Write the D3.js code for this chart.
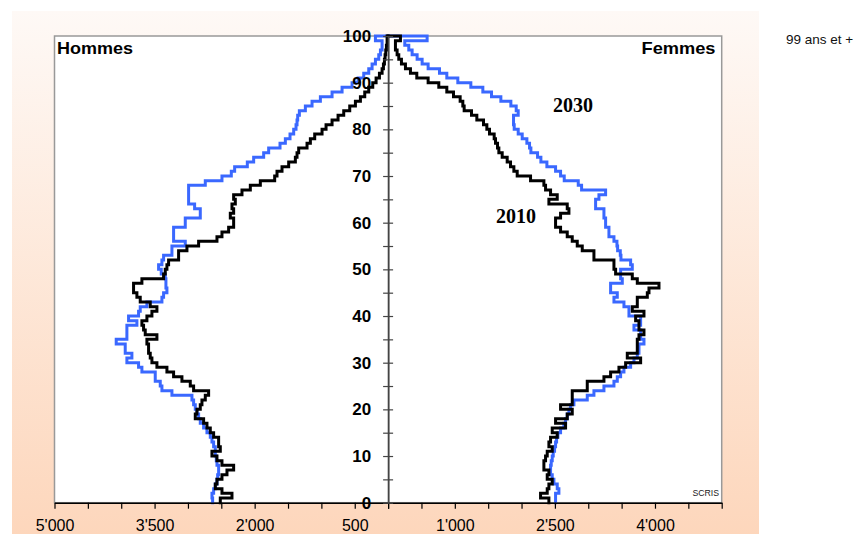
<!DOCTYPE html>
<html><head><meta charset="utf-8">
<script src="https://cdn.jsdelivr.net/npm/d3@7"></script>
<style>body{margin:0;background:#fff}svg{display:block}</style>
</head><body>
<svg id="chart" width="862" height="534"></svg>
<script>
// ---- data (population by single year of age, 0 .. 99+) ----
const men2010 = [2515,2340,2490,2590,2565,2490,2415,2315,2490,2565,
  2640,2515,2540,2540,2615,2665,2715,2765,2890,2865,
  2815,2790,2740,2690,2915,2965,3090,3215,3315,3465,
  3540,3565,3590,3590,3615,3465,3640,3665,3690,3615,
  3540,3465,3565,3715,3765,3815,3815,3690,3365,3340,
  3315,3290,3140,3140,3015,2840,2565,2490,2390,2315,
  2315,2365,2315,2340,2290,2315,2190,2065,1915,1700,
  1665,1590,1490,1390,1365,1340,1215,1165,1100,990,
  930,840,750,665,575,490,415,350,290,230,
  180,130,90,70,55,45,35,25,15,15];
const men2030 = [2630,2640,2615,2590,2565,2555,2540,2540,2565,2575,
  2590,2590,2615,2640,2665,2715,2765,2815,2840,2865,
  2890,2915,2940,3240,3390,3415,3490,3490,3690,3740,
  3915,3840,3940,3940,4075,3915,3915,3915,3765,3890,
  3740,3715,3615,3390,3365,3315,3330,3330,3340,3400,
  3440,3390,3365,3240,3240,3040,3215,3215,3215,3040,
  3040,2815,2815,2900,2990,2990,2990,2990,2740,2490,
  2350,2300,2110,2015,1865,1790,1620,1540,1470,1415,
  1380,1365,1355,1330,1240,1140,1015,840,690,540,
  450,365,290,240,190,140,115,90,90,190];
const women2010 = [2410,2285,2385,2410,2460,2385,2410,2335,2335,2360,
  2385,2460,2410,2435,2535,2460,2660,2510,2685,2760,
  2585,2760,2760,2760,2985,2985,3235,3335,3460,3560,
  3785,3585,3735,3735,3735,3760,3835,3760,3760,3710,
  3835,3660,3735,3735,3885,3910,4060,3735,3660,3410,
  3385,3385,3085,3085,2910,2835,2760,2685,2585,2510,
  2510,2585,2710,2685,2410,2535,2435,2360,2335,2135,
  1935,1885,1835,1785,1710,1660,1640,1610,1590,1520,
  1480,1430,1330,1250,1140,1120,1080,980,880,760,
  600,430,335,260,200,160,135,110,110,185];
const women2030 = [2510,2510,2560,2535,2485,2460,2435,2435,2445,2460,
  2475,2495,2510,2525,2545,2585,2635,2660,2685,2710,
  2735,2785,2985,3085,3235,3385,3435,3485,3535,3635,
  3685,3735,3760,3760,3835,3785,3785,3685,3785,3785,
  3610,3610,3535,3385,3435,3335,3335,3510,3485,3485,
  3660,3635,3490,3480,3440,3430,3385,3310,3310,3260,
  3260,3235,3235,3110,3110,3160,3260,2900,2850,2640,
  2585,2510,2380,2290,2240,2140,2120,2080,2010,1950,
  1890,1880,1880,1950,1920,1840,1690,1550,1420,1240,
  1045,880,770,600,510,435,360,310,250,585];

const xTickValues = d3.range(0, 5001, 500);
const leftTickLabels = [500, 2000, 3500, 5000];
const rightTickLabels = [1000, 2500, 4000];
const yTickValues = d3.range(0, 101, 5);
const yTickLabels = d3.range(0, 101, 10);
const sideLabels = ["Hommes", "Femmes"];
const yearLabels = ["2030", "2010"];
const topNote = "99 ans et +";
const sourceNote = "SCRIS";

// ---- layout ----
const svg = d3.select("#chart");
const L = 54.5, R = 721.7, T = 36, B = 502.7;
const cx = (L + R) / 2;
const xLeft = d3.scaleLinear().domain([0, 5000]).range([cx, L]);
const xRight = d3.scaleLinear().domain([0, 5000]).range([cx, R]);
const y = d3.scaleLinear().domain([0, 100]).range([B, T]);

const defs = svg.append("defs");
const g = defs.append("linearGradient").attr("id", "bg").attr("x1", 0).attr("y1", 0).attr("x2", 0).attr("y2", 1);
g.append("stop").attr("offset", "0%").attr("stop-color", "#fef9f6");
g.append("stop").attr("offset", "100%").attr("stop-color", "#fdd6bb");

svg.append("rect").attr("x", 12).attr("y", 11).attr("width", 747).attr("height", 530).attr("fill", "url(#bg)");
svg.append("rect").attr("x", L).attr("y", T).attr("width", R - L).attr("height", B - T)
  .attr("fill", "#fff").attr("stroke", "#999").attr("stroke-width", 1.5);

const fmt = d3.formatLocale({decimal: ".", thousands: "'", grouping: [3], currency: ["", ""]}).format(",");

// series
function stepPts(vals) { const p = vals.map((v, i) => [v, i]); p.push([0, 100]); return p; }
function mkLine(xs) { return d3.line().x(d => xs(d[0])).y(d => y(d[1])).curve(d3.curveStepBefore); }

const series = [
  {vals: men2030, xs: xLeft, color: "#3a68ff"},
  {vals: women2030, xs: xRight, color: "#3a68ff"},
  {vals: men2010, xs: xLeft, color: "#000"},
  {vals: women2010, xs: xRight, color: "#000"}
];
series.forEach(s => {
  svg.append("path").attr("d", mkLine(s.xs)(stepPts(s.vals)))
    .attr("fill", "none").attr("stroke", s.color).attr("stroke-width", 3)
    .attr("stroke-linejoin", "miter").attr("stroke-linecap", "square");
});

// x axes
function styleX(sel) {
  sel.select(".domain").attr("stroke", "#000").attr("stroke-width", 1.5);
  sel.selectAll(".tick line").attr("stroke", "#000").attr("stroke-width", 1.2);
  sel.selectAll(".tick text").attr("y", 28.5).attr("dy", 0)
    .style("font-family", "Arial, 'Liberation Sans', sans-serif").style("font-size", "16px").attr("fill", "#000");
}
const axL = svg.append("g").attr("transform", `translate(0,${B})`)
  .call(d3.axisBottom(xLeft).tickValues(xTickValues).tickSize(6).tickSizeOuter(0)
    .tickFormat(d => leftTickLabels.includes(d) ? fmt(d) : ""));
styleX(axL);
const axR = svg.append("g").attr("transform", `translate(0,${B})`)
  .call(d3.axisBottom(xRight).tickValues(xTickValues).tickSize(6).tickSizeOuter(0)
    .tickFormat(d => rightTickLabels.includes(d) ? fmt(d) : ""));
styleX(axR);

// y axis (center)
const ayR = svg.append("g").attr("transform", `translate(${cx},0)`)
  .call(d3.axisRight(y).tickValues(yTickValues).tickSize(5).tickSizeOuter(0).tickFormat(""));
const ayL = svg.append("g").attr("transform", `translate(${cx},0)`)
  .call(d3.axisLeft(y).tickValues(yTickValues).tickSize(5).tickPadding(12).tickSizeOuter(0)
    .tickFormat(d => yTickLabels.includes(d) ? d : ""));
[ayR, ayL].forEach(a => {
  a.select(".domain").attr("stroke", "#444").attr("stroke-width", 1.5);
  a.selectAll(".tick line").attr("stroke", "#444").attr("stroke-width", 1.2);
});
ayL.selectAll(".tick text").style("font-family", "Arial, 'Liberation Sans', sans-serif")
  .style("font-size", "17px").style("font-weight", "bold").attr("fill", "#000");

// texts
const sans = "Arial, 'Liberation Sans', sans-serif";
svg.append("text").attr("x", 57).attr("y", 53.5).text(sideLabels[0])
  .style("font-family", sans).style("font-size", "17px").style("font-weight", "bold")
  .attr("textLength", 76).attr("lengthAdjust", "spacingAndGlyphs");
svg.append("text").attr("x", 641.5).attr("y", 53.5).text(sideLabels[1])
  .style("font-family", sans).style("font-size", "17px").style("font-weight", "bold")
  .attr("textLength", 74).attr("lengthAdjust", "spacingAndGlyphs");
svg.append("text").attr("x", 553).attr("y", 112).text(yearLabels[0])
  .style("font-family", "'Liberation Serif', 'Times New Roman', serif").style("font-size", "20px").style("font-weight", "bold");
svg.append("text").attr("x", 496).attr("y", 223).text(yearLabels[1])
  .style("font-family", "'Liberation Serif', 'Times New Roman', serif").style("font-size", "20px").style("font-weight", "bold");
svg.append("text").attr("x", 786).attr("y", 43.5).text(topNote)
  .style("font-family", sans).style("font-size", "13.5px").attr("fill", "#111");
svg.append("text").attr("x", 719).attr("y", 496).attr("text-anchor", "end").text(sourceNote)
  .style("font-family", sans).style("font-size", "8.7px").attr("fill", "#222");
</script>
</body></html>
